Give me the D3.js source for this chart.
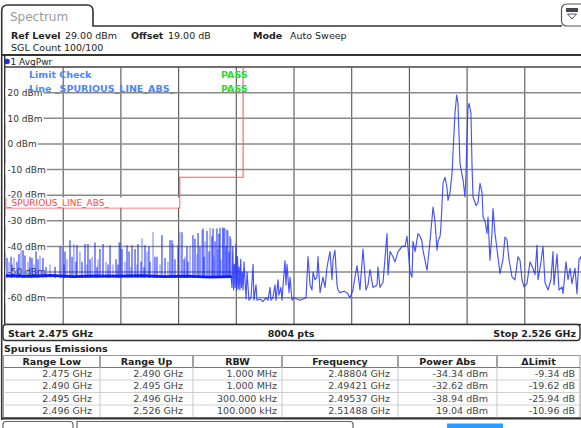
<!DOCTYPE html>
<html>
<head>
<meta charset="utf-8">
<script src="https://cdn.jsdelivr.net/npm/d3@7"></script>
<style>
    body { margin: 0; background: #fff; }
    svg { display: block; font-family: "DejaVu Sans", Verdana, sans-serif; }
</style>
</head>
<body>
<div id="chart"></div>
<script>
// ---------------- data ----------------
const refLevel = 29;          // dBm, top of screen
const offsetDb = 19;
const sglCount = "100/100";
const startGHz = 2.475;
const stopGHz = 2.526;
const sweepPoints = 8004;
const yTickLevels = [20, 10, 0, -10, -20, -30, -40, -50, -60];

// limit line _SPURIOUS_LINE_ABS_
const limitFreq = [2.475, 2.4904, 2.4904, 2.496, 2.496, 2.526];
const limitLevel = [-25, -25, -13, -13, 30, 30];

// ranges 1 + 2 (1 MHz RBW): noise floor and the spurs standing on it
const floorFreq = [2.475, 2.477, 2.479, 2.481, 2.483, 2.485, 2.487, 2.489, 2.491, 2.493, 2.495];
const floorLevel = [-51.4, -51.7, -51.3, -51.8, -51.5, -51.6, -51.4, -51.8, -51.6, -52.0, -51.8];
const spurFreq = [
    2.47513, 2.47531, 2.47549, 2.47557, 2.47575, 2.47602, 2.47619, 2.47637, 2.47655, 2.47672,
    2.47699, 2.47717, 2.47734, 2.47752, 2.47770, 2.47787, 2.47805, 2.47831, 2.47858, 2.47893,
    2.47938, 2.47982, 2.47999, 2.48017, 2.48026, 2.48044, 2.48070, 2.48088, 2.48105, 2.48123,
    2.48132, 2.48158, 2.48176, 2.48203, 2.48220, 2.48229, 2.48247, 2.48265, 2.48291, 2.48309,
    2.48318, 2.48335, 2.48362, 2.48388, 2.48406, 2.48424, 2.48450, 2.48477, 2.48494, 2.48503,
    2.48512, 2.48530, 2.48556, 2.48574, 2.48592, 2.48609, 2.48618, 2.48645, 2.48662, 2.48671,
    2.48698, 2.48707, 2.48724, 2.48733, 2.48751, 2.48768, 2.48777, 2.48804, 2.48821, 2.48839,
    2.48866, 2.48883, 2.48910, 2.48936, 2.48954, 2.48972, 2.48981, 2.48998, 2.49025, 2.49042,
    2.49060, 2.49078, 2.49087, 2.49104, 2.49113, 2.49131, 2.49157, 2.49175, 2.49193, 2.49202,
    2.49219, 2.49237, 2.49246, 2.49255, 2.49263, 2.49281, 2.49299, 2.49308, 2.49325, 2.49334,
    2.49343, 2.49352, 2.49369, 2.49378, 2.49387, 2.49396, 2.49405, 2.49421, 2.49431, 2.49440,
    2.49449, 2.49458, 2.49467, 2.49476, 2.49484, 2.49493
];
const spurLevel = [
    -44.5, -46, -44, -47, -44.3, -46, -43, -41.5, -41.5, -43.5,
    -46, -44, -44.5, -47, -42, -45, -43.5, -44.5, -48, -47,
    -48, -40, -40, -47, -42, -45, -37.6, -44, -39, -46,
    -39.5, -42, -46, -39, -47, -39, -45, -44, -38.5, -48,
    -45, -41, -39, -46, -47, -39.5, -47, -45, -47, -38.5,
    -38.5, -41, -46, -39.5, -42, -48, -39.5, -41, -47, -39,
    -46, -36.8, -48, -39.5, -42, -40, -46, -34.34, -44, -44,
    -47, -35.6, -44.5, -46, -37.6, -37.6, -39, -45, -39.5, -34.3,
    -34.5, -45, -44, -40, -46, -40, -35.6, -37, -43, -34.8,
    -40, -33.7, -33, -44, -38, -34, -42, -32.8, -36, -33,
    -44, -38, -33, -41, -35, -32.7, -45, -32.62, -33, -32.8,
    -40, -33.5, -34, -42, -36, -37
];

// range 3 (300 kHz RBW): dense burst
const r3Freq = [2.49495, 2.49502, 2.49509, 2.49516, 2.49523, 2.49530, 2.49537, 2.49544,
    2.49551, 2.49558, 2.49565, 2.49572, 2.49579, 2.49586, 2.49593, 2.49600];
const r3Level = [-52, -56, -40, -57, -47, -56, -38.94, -57, -44, -56.5, -48, -57, -45, -56, -50, -57];

// range 4 (100 kHz RBW)
const r4Freq = [
    2.49608, 2.49626, 2.49635, 2.49652, 2.49670, 2.49688, 2.49696, 2.49714, 2.49723, 2.49749,
    2.49776, 2.49803, 2.49820, 2.49838, 2.49847, 2.49864, 2.49882, 2.49891, 2.49909, 2.49917,
    2.49935, 2.49944, 2.49970, 2.49979, 2.49988, 2.50006, 2.50015, 2.50032, 2.50050, 2.50077,
    2.50103, 2.50130, 2.50156, 2.50174, 2.50192, 2.50209, 2.50218, 2.50236, 2.50253, 2.50262,
    2.50280, 2.50306, 2.50324, 2.50342, 2.50368, 2.50386, 2.50395, 2.50412, 2.50430, 2.50439,
    2.50456, 2.50492, 2.50518, 2.50545, 2.50571, 2.50589, 2.50607, 2.50633, 2.50660, 2.50686,
    2.50704, 2.50722, 2.50748, 2.50784, 2.50792, 2.50810, 2.50837, 2.50872, 2.50881, 2.50899,
    2.50925, 2.50943, 2.50970, 2.51005, 2.51031, 2.51049, 2.51076, 2.51093, 2.51102, 2.51120,
    2.51146, 2.51164, 2.51181, 2.51190, 2.51226, 2.51252, 2.51279, 2.51296, 2.51314, 2.51323,
    2.51341, 2.51349, 2.51367, 2.51385, 2.51402, 2.51411, 2.51429, 2.51447, 2.51455, 2.51473,
    2.51488, 2.51499, 2.51517, 2.51535, 2.51544, 2.51561, 2.51570, 2.51579, 2.51588, 2.51597,
    2.51614, 2.51623, 2.51632, 2.51659, 2.51676, 2.51694, 2.51712, 2.51721, 2.51738, 2.51756,
    2.51765, 2.51782, 2.51800, 2.51809, 2.51827, 2.51844, 2.51871, 2.51897, 2.51915, 2.51933,
    2.51950, 2.51977, 2.52003, 2.52030, 2.52048, 2.52065, 2.52083, 2.52109, 2.52136, 2.52162,
    2.52180, 2.52198, 2.52207, 2.52233, 2.52251, 2.52268, 2.52295, 2.52321, 2.52339, 2.52348,
    2.52375, 2.52392, 2.52419, 2.52428, 2.52454, 2.52472, 2.52490, 2.52507, 2.52534, 2.52551,
    2.52569, 2.52587, 2.52600
];
const r4Level = [
    -46, -60.5, -50, -61, -60, -47, -61, -55, -61, -60.5,
    -61.5, -60, -61, -56, -61, -60, -55, -61, -53, -59,
    -56, -61, -45.5, -55, -47, -58, -52, -61, -60, -60.5,
    -61, -60.5, -60, -44, -55, -57, -50, -53, -52, -44,
    -58, -52, -56, -48, -42, -53, -45, -41.5, -55, -57,
    -58, -57.5, -58, -60, -57, -52, -47.5, -57, -41, -57,
    -55, -49, -56, -55, -48, -56, -54, -35, -51, -42,
    -44, -46, -42, -40, -40, -36, -50, -52, -38, -42,
    -35, -36, -38, -41.5, -49.3, -38, -24.6, -30, -41.5, -38,
    -36, -32, -15.4, -13, -17, -22, -19, -11.5, -3.7, 12,
    19.04, 16, -7.6, -12, -14, -20.6, -12, 2.8, 14, 15.8,
    12, -7.6, -20.6, -24, -23, -15.4, -19, -28.5, -30, -34.9,
    -28.5, -45.4, -35, -25.2, -35, -41, -50.6, -45, -36.3, -37.5,
    -45, -51.9, -53, -44, -45.5, -53, -55.8, -54.5, -46, -48.5,
    -51, -39.5, -53, -46, -40, -54, -57, -53, -42, -55,
    -43, -57, -55.8, -58.4, -46, -53, -48.5, -54.5, -48.5, -58.4,
    -45, -44, -52
];

// Spurious Emissions table
const tableHeaders = ["Range Low", "Range Up", "RBW", "Frequency", "Power Abs", "\u0394Limit"];
const rangeLow = [2.475, 2.490, 2.495, 2.496];
const rangeUp = [2.490, 2.495, 2.496, 2.526];
const rbwLabels = ["1.000 MHz", "1.000 MHz", "300.000 kHz", "100.000 kHz"];
const peakFreq = [2.48804, 2.49421, 2.49537, 2.51488];
const peakPower = [-34.34, -32.62, -38.94, 19.04];
const deltaLimit = [-9.34, -19.62, -25.94, -10.96];

// ---------------- drawing ----------------
var width = 581, height = 428;
var frame = "#333";

var svg = d3.select("#chart").append("svg")
    .attr("width", width)
    .attr("height", height);

var x = d3.scaleLinear().domain([startGHz, stopGHz]).range([5.5, 582.5]);
var y = d3.scaleLinear().domain([refLevel - 100, refLevel]).range([325.9, 69.6]);
var plotTop = 67, plotBottom = 324.5;

// tab + header frame
svg.append("path")
    .attr("d", "M1.7,420 L1.7,11 Q1.7,5 7.7,5 L87,5 Q93,5 93,11 L93,26 L562,26")
    .attr("fill", "none").attr("stroke", frame).attr("stroke-width", 1.6);
svg.append("text").attr("x", 10).attr("y", 20.5)
    .attr("font-size", 12).attr("fill", "#9a9a9a").text("Spectrum");

// icon top right
svg.append("rect").attr("x", 561.5).attr("y", 4).attr("width", 30).attr("height", 22).attr("rx", 5)
    .attr("fill", "#fff").attr("stroke", "#555").attr("stroke-width", 1.2);
svg.append("rect").attr("x", 566).attr("y", 8).attr("width", 12).attr("height", 4).attr("fill", "#445");
svg.append("path").attr("d", "M567.5,14 L576.5,14 L572,19 Z")
    .attr("fill", "none").attr("stroke", "#556").attr("stroke-width", 1);

svg.append("line").attr("x1", 1.7).attr("x2", width).attr("y1", 55).attr("y2", 55)
    .attr("stroke", frame).attr("stroke-width", 1.8);

var header = [
    { t: "Ref Level", x: 11, y: 38.5, b: true }, { t: refLevel.toFixed(2) + " dBm", x: 65, y: 38.5 },
    { t: "Offset", x: 131, y: 38.5, b: true }, { t: offsetDb.toFixed(2) + " dB", x: 168, y: 38.5 },
    { t: "Mode", x: 253, y: 38.5, b: true }, { t: "Auto Sweep", x: 290, y: 38.5 },
    { t: "SGL Count " + sglCount, x: 11, y: 50.5 }
];
svg.selectAll(".hdr").data(header).enter().append("text")
    .attr("x", d => d.x).attr("y", d => d.y)
    .attr("font-size", 9.5).attr("fill", "#222")
    .attr("font-weight", d => d.b ? "bold" : "normal")
    .text(d => d.t);

// trace label row
svg.append("circle").attr("cx", 7).attr("cy", 61.5).attr("r", 2.8).attr("fill", "#1a2aff");
svg.append("text").attr("x", 10.5).attr("y", 64.5).attr("font-size", 9).attr("fill", "#222").text("1 AvgPwr");

// plot frame
svg.append("rect").attr("x", 4.7).attr("y", plotTop).attr("width", 600).attr("height", plotBottom - plotTop)
    .attr("fill", "#fff").attr("stroke", frame).attr("stroke-width", 1.4);
svg.append("line").attr("x1", 4.7).attr("x2", 4.7).attr("y1", 55).attr("y2", plotTop)
    .attr("stroke", frame).attr("stroke-width", 1.4);

var g = svg.append("g");

// grid
var divs = d3.range(1, 10).map(i => startGHz + i * (stopGHz - startGHz) / 10);
g.selectAll(".vgrid").data(divs).enter().append("line")
    .attr("x1", d => x(d)).attr("x2", d => x(d))
    .attr("y1", plotTop).attr("y2", plotBottom)
    .attr("stroke", "#555").attr("stroke-width", 1.1);
g.selectAll(".hgrid").data(yTickLevels).enter().append("line")
    .attr("x1", 5.5).attr("x2", 600)
    .attr("y1", d => y(d)).attr("y2", d => y(d))
    .attr("stroke", "#8a8a8a").attr("stroke-width", 1.5);

// y labels on white backing
var ylab = g.selectAll(".ylab").data(yTickLevels).enter().append("g");
ylab.append("rect");
ylab.append("text")
    .attr("x", 7.5).attr("y", d => y(d) + 3.3)
    .attr("font-size", 9).attr("fill", "#333")
    .text(d => d + " dBm");
ylab.each(function (d) {
    var len = d3.select(this).select("text").node().getComputedTextLength();
    d3.select(this).select("rect")
        .attr("x", 5.5).attr("y", y(d) - 5).attr("width", len + 3).attr("height", 10)
        .attr("fill", "#fff");
});

svg.append("clipPath").attr("id", "plotclip").append("rect")
    .attr("x", 5.4).attr("y", plotTop + 0.6).attr("width", 600).attr("height", plotBottom - plotTop - 1.2);

var line = d3.line().x(d => x(d[0])).y(d => y(d[1]));
var traceG = g.append("g").attr("clip-path", "url(#plotclip)");

// limit line
traceG.append("path")
    .datum(limitFreq.map((f, i) => [f, limitLevel[i]]))
    .attr("d", line)
    .attr("fill", "none").attr("stroke", "#ff5a5a").attr("stroke-width", 1.1);

// trace: spurs in ranges 1-2
traceG.selectAll(".spur").data(spurFreq).enter().append("line")
    .attr("x1", d => x(d)).attr("x2", d => x(d))
    .attr("y1", y(-52.3))
    .attr("y2", (d, i) => y(spurLevel[i]))
    .attr("stroke", "#1426ff").attr("stroke-opacity", (d, i) => i % 3 === 1 ? 0.55 : 0.92)
    .attr("stroke-width", 1.1);

traceG.append("path")
    .datum(floorFreq.map((f, i) => [f, floorLevel[i]]))
    .attr("d", line)
    .attr("fill", "none").attr("stroke", "#0d1cff").attr("stroke-width", 2.8);

traceG.append("path")
    .datum(r3Freq.map((f, i) => [f, r3Level[i]]).concat(r4Freq.map((f, i) => [f, r4Level[i]])))
    .attr("d", line)
    .attr("fill", "none").attr("stroke", "#2435ff").attr("stroke-opacity", 0.85)
    .attr("stroke-width", 1.15).attr("stroke-linejoin", "round");

// limit check texts
var checks = [
    { t: "Limit Check", y: 78, c: "#4a86ff", x: 29 },
    { t: "Line _SPURIOUS_LINE_ABS_", y: 91.5, c: "#4a86ff", x: 29 },
    { t: "PASS", y: 78, c: "#2bdc2b", x: 221 },
    { t: "PASS", y: 91.5, c: "#2bdc2b", x: 221 }
];
svg.selectAll(".chk").data(checks).enter().append("text")
    .attr("x", d => d.x).attr("y", d => d.y)
    .attr("font-size", 9.5).attr("font-weight", "bold").attr("fill", d => d.c)
    .text(d => d.t);

// limit line label
var lblRight = x(limitFreq[1]);
svg.append("rect").attr("x", 5.5).attr("y", y(limitLevel[0]) - 10.5)
    .attr("width", lblRight - 6).attr("height", 10)
    .attr("fill", "#fff");
svg.append("line").attr("x1", 5.8).attr("x2", 5.8)
    .attr("y1", y(limitLevel[0]) - 10.5).attr("y2", y(limitLevel[0]))
    .attr("stroke", "#ff5a5a").attr("stroke-width", 1);
svg.append("text").attr("x", 7).attr("y", y(limitLevel[0]) - 2.3)
    .attr("font-size", 9).attr("fill", "#ff4444").text("_SPURIOUS_LINE_ABS_");

// status bar
svg.append("rect").attr("x", 3).attr("y", plotBottom).attr("width", 577).attr("height", 16).attr("rx", 3)
    .attr("fill", "#fff").attr("stroke", frame).attr("stroke-width", 1.4);
var statusItems = [
    { t: "Start " + startGHz.toFixed(3) + " GHz", x: 8, a: "start" },
    { t: sweepPoints + " pts", x: 291, a: "middle" },
    { t: "Stop " + stopGHz.toFixed(3) + " GHz", x: 576, a: "end" }
];
svg.selectAll(".st").data(statusItems).enter().append("text")
    .attr("x", d => d.x).attr("y", 336.5).attr("text-anchor", d => d.a)
    .attr("font-size", 9.5).attr("font-weight", "bold").attr("fill", "#222")
    .text(d => d.t);

// table
svg.append("text").attr("x", 4).attr("y", 351.5)
    .attr("font-size", 9.5).attr("font-weight", "bold").attr("fill", "#222")
    .text("Spurious Emissions");

var cols = [3.5, 100, 193, 282, 398, 497, 580];
var pads = [8, 10, 5, 8, 9, 5];
var headTop = 355.5, headBottom = 367.5, rowH = 12.5;
var tbl = svg.append("g");

tbl.append("rect").attr("x", cols[0]).attr("y", headTop)
    .attr("width", cols[6] - cols[0]).attr("height", headBottom - headTop + 4 * rowH)
    .attr("fill", "#fff").attr("stroke", "#999").attr("stroke-width", 1);
tbl.append("line").attr("x1", cols[0]).attr("x2", cols[6]).attr("y1", headBottom).attr("y2", headBottom)
    .attr("stroke", "#777").attr("stroke-width", 1.2);
tbl.selectAll(".rsep").data(d3.range(1, 4)).enter().append("line")
    .attr("x1", cols[0]).attr("x2", cols[6])
    .attr("y1", d => headBottom + d * rowH).attr("y2", d => headBottom + d * rowH)
    .attr("stroke", "#d0d0d0").attr("stroke-width", 1);
tbl.selectAll(".csep").data(cols.slice(1, 6)).enter().append("line")
    .attr("x1", d => d).attr("x2", d => d)
    .attr("y1", headTop).attr("y2", headBottom + 4 * rowH)
    .attr("stroke", "#c8c8c8").attr("stroke-width", 1);
tbl.selectAll(".hsep").data(cols.slice(1, 6)).enter().append("line")
    .attr("x1", d => d).attr("x2", d => d)
    .attr("y1", headTop).attr("y2", headBottom)
    .attr("stroke", "#777").attr("stroke-width", 1.2);

tbl.selectAll(".hd").data(tableHeaders).enter().append("text")
    .attr("x", (d, i) => (cols[i] + cols[i + 1]) / 2).attr("y", 365)
    .attr("text-anchor", "middle")
    .attr("font-size", 9.5).attr("font-weight", "bold").attr("fill", "#222")
    .text(d => d);

var rows = rangeLow.map((d, i) => [
    d.toFixed(3) + " GHz",
    rangeUp[i].toFixed(3) + " GHz",
    rbwLabels[i],
    peakFreq[i].toFixed(5) + " GHz",
    peakPower[i].toFixed(2) + " dBm",
    deltaLimit[i].toFixed(2) + " dB"
]);
rows.forEach(function (r, ri) {
    tbl.selectAll(".c" + ri).data(r).enter().append("text")
        .attr("x", (d, ci) => cols[ci + 1] - pads[ci])
        .attr("y", headBottom + ri * rowH + 9.3)
        .attr("text-anchor", "end")
        .attr("font-size", 9.5).attr("fill", "#444")
        .text(d => d);
});

// outer frame bottom + lower tabs
svg.append("line").attr("x1", 1.7).attr("x2", width).attr("y1", 418.5).attr("y2", 418.5)
    .attr("stroke", frame).attr("stroke-width", 2);
svg.append("path").attr("d", "M3,430 L3,424.5 Q3,421.5 6,421.5 L70,421.5 Q73,421.5 73,424.5 L73,430")
    .attr("fill", "none").attr("stroke", "#666").attr("stroke-width", 1.2);
svg.append("path").attr("d", "M77,430 L77,421.5 L350,421.5 Q353,421.5 353,424.5 L353,430")
    .attr("fill", "none").attr("stroke", "#666").attr("stroke-width", 1.2);
svg.append("rect").attr("x", 447).attr("y", 423.5).attr("width", 56).attr("height", 6)
    .attr("fill", "#2a9dff");
</script>
</body>
</html>
